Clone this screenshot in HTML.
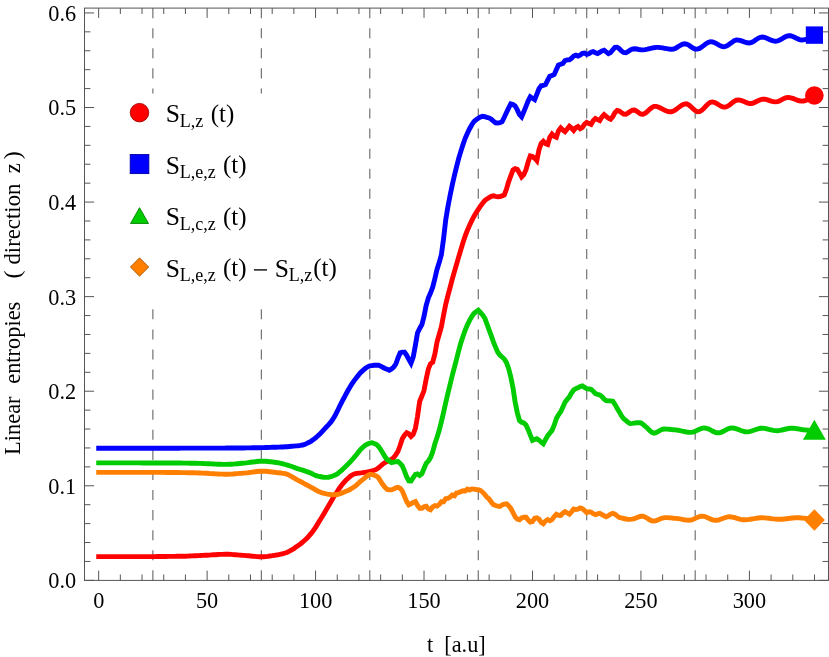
<!DOCTYPE html>
<html><head><meta charset="utf-8"><title>Linear entropies</title>
<style>html,body{margin:0;padding:0;background:#fff;}svg{display:block;will-change:transform;opacity:0.999;}text{font-family:"Liberation Serif",serif;}</style>
</head><body>
<svg width="829" height="657" viewBox="0 0 829 657">
<rect width="829" height="657" fill="#fff"/>
<line x1="152.88" y1="8.1" x2="152.88" y2="580.4" stroke="#666" stroke-width="1.1" stroke-dasharray="10.040 10.040"/>
<line x1="261.34" y1="8.1" x2="261.34" y2="580.4" stroke="#666" stroke-width="1.1" stroke-dasharray="10.040 10.040"/>
<line x1="369.80" y1="8.1" x2="369.80" y2="580.4" stroke="#666" stroke-width="1.1" stroke-dasharray="10.040 10.040"/>
<line x1="478.26" y1="8.1" x2="478.26" y2="580.4" stroke="#666" stroke-width="1.1" stroke-dasharray="10.040 10.040"/>
<line x1="586.72" y1="8.1" x2="586.72" y2="580.4" stroke="#666" stroke-width="1.1" stroke-dasharray="10.040 10.040"/>
<line x1="695.18" y1="8.1" x2="695.18" y2="580.4" stroke="#666" stroke-width="1.1" stroke-dasharray="10.040 10.040"/>
<path d="M98.7,556.6 L100.8,556.6 L103.0,556.6 L105.2,556.6 L107.3,556.6 L109.5,556.6 L111.7,556.6 L113.8,556.6 L116.0,556.6 L118.2,556.6 L120.3,556.6 L122.5,556.6 L124.7,556.6 L126.8,556.6 L129.0,556.6 L131.2,556.6 L133.4,556.6 L135.5,556.6 L137.7,556.6 L139.9,556.6 L142.0,556.6 L144.2,556.6 L146.4,556.6 L148.5,556.6 L150.7,556.6 L152.9,556.6 L155.0,556.6 L157.2,556.5 L159.4,556.5 L161.6,556.5 L163.7,556.5 L165.9,556.5 L168.1,556.4 L170.2,556.4 L172.4,556.4 L174.6,556.4 L176.7,556.3 L178.9,556.3 L181.1,556.3 L183.2,556.2 L185.4,556.2 L187.6,556.1 L189.8,556.0 L191.9,555.9 L194.1,555.8 L196.3,555.7 L198.4,555.6 L200.6,555.5 L202.8,555.4 L204.9,555.3 L207.1,555.2 L209.3,555.1 L211.4,554.9 L213.6,554.8 L215.8,554.7 L218.0,554.5 L220.1,554.4 L222.3,554.4 L224.5,554.3 L226.6,554.3 L228.8,554.3 L231.0,554.4 L233.1,554.6 L235.3,554.7 L237.5,554.9 L239.6,555.1 L241.8,555.3 L244.0,555.4 L246.2,555.6 L248.3,555.8 L250.5,556.0 L252.7,556.2 L254.8,556.4 L257.0,556.6 L259.2,556.7 L261.3,556.8 L263.5,556.8 L265.7,556.6 L267.8,556.4 L270.0,556.0 L272.2,555.7 L274.4,555.3 L276.5,555.0 L278.7,554.6 L280.9,554.1 L283.0,553.6 L285.2,553.0 L287.4,552.2 L289.5,551.2 L291.7,549.9 L293.9,548.6 L296.0,547.1 L298.2,545.6 L300.4,544.0 L302.6,542.2 L304.7,540.3 L306.9,538.2 L309.1,535.9 L311.2,533.4 L313.4,530.5 L315.6,527.3 L317.7,523.9 L319.9,520.3 L322.1,516.8 L324.2,513.2 L326.4,509.5 L328.6,505.7 L330.8,501.9 L332.9,498.2 L335.1,494.8 L337.3,491.5 L339.4,488.2 L341.6,485.2 L343.8,482.5 L345.9,480.3 L348.1,478.2 L350.3,476.3 L352.4,474.8 L354.6,473.8 L356.8,473.4 L359.0,473.1 L361.1,472.9 L363.3,472.6 L365.5,472.3 L367.6,471.9 L369.8,471.5 L372.0,471.0 L374.1,470.3 L376.3,469.4 L378.5,467.8 L380.6,466.0 L382.8,464.1 L385.0,462.5 L387.2,461.4 L389.3,460.5 L391.5,459.3 L393.7,457.6 L395.8,454.9 L398.0,451.3 L400.2,445.3 L402.3,438.8 L404.5,435.2 L406.7,432.8 L408.8,433.8 L411.0,436.4 L413.2,434.3 L415.4,428.3 L417.5,416.6 L419.7,401.2 L421.9,396.0 L424.0,390.5 L426.2,378.9 L428.4,368.9 L430.5,363.8 L432.7,362.2 L434.9,353.9 L437.0,342.0 L439.2,334.5 L441.4,326.7 L443.6,314.9 L445.7,304.3 L447.9,295.7 L450.1,287.5 L452.2,279.4 L454.4,271.6 L456.6,264.1 L458.7,256.9 L460.9,249.5 L463.1,242.3 L465.2,235.9 L467.4,230.3 L469.6,225.2 L471.8,220.6 L473.9,216.4 L476.1,212.7 L478.3,209.3 L480.4,206.2 L482.6,203.2 L484.8,200.6 L486.9,198.9 L489.1,197.6 L491.3,196.3 L493.4,195.8 L495.6,196.3 L497.8,196.7 L500.0,196.5 L502.1,196.0 L504.3,194.9 L506.5,189.0 L508.6,181.8 L510.8,175.9 L513.0,169.9 L515.1,168.7 L517.3,169.4 L519.5,173.1 L521.6,176.9 L523.8,174.6 L526.0,169.7 L528.2,161.8 L530.3,155.9 L532.5,156.5 L534.7,158.2 L536.8,160.6 L539.0,149.7 L541.2,143.4 L543.3,141.3 L545.5,143.7 L547.7,144.5 L549.8,137.3 L552.0,134.1 L554.2,136.3 L556.4,137.2 L558.5,130.8 L560.7,127.9 L562.9,130.1 L565.0,131.7 L567.2,129.0 L569.4,126.2 L571.5,128.0 L573.7,130.4 L575.9,127.6 L578.0,126.5 L580.2,128.7 L582.4,127.4 L584.6,124.2 L586.7,122.4 L588.9,123.4 L591.1,124.4 L593.2,120.7 L595.4,118.5 L597.6,119.6 L599.7,120.6 L601.9,117.0 L604.1,114.6 L606.2,116.4 L608.4,118.2 L610.6,119.2 L612.8,116.5 L614.9,112.7 L617.1,110.4 L619.3,111.0 L621.4,112.6 L623.6,114.1 L625.8,114.3 L627.9,113.1 L630.1,111.5 L632.3,110.2 L634.4,110.0 L636.6,111.1 L638.8,112.8 L640.9,114.1 L643.1,114.3 L645.3,113.2 L647.5,111.4 L649.6,109.3 L651.8,107.5 L654.0,106.4 L656.1,106.4 L658.3,107.0 L660.5,108.0 L662.6,109.1 L664.8,110.3 L667.0,111.2 L669.1,111.8 L671.3,111.8 L673.5,111.0 L675.7,109.7 L677.8,108.1 L680.0,106.4 L682.2,105.0 L684.3,104.1 L686.5,103.8 L688.7,104.8 L690.8,106.6 L693.0,108.7 L695.2,110.6 L697.3,111.8 L699.5,111.7 L701.7,110.4 L703.9,108.3 L706.0,106.0 L708.2,103.8 L710.4,102.3 L712.5,101.9 L714.7,102.5 L716.9,103.7 L719.0,105.0 L721.2,106.3 L723.4,107.1 L725.5,107.1 L727.7,106.2 L729.9,104.7 L732.1,102.9 L734.2,101.3 L736.4,100.2 L738.6,99.9 L740.7,100.3 L742.9,101.1 L745.1,102.1 L747.2,102.9 L749.4,103.5 L751.6,103.5 L753.7,102.9 L755.9,101.8 L758.1,100.7 L760.3,99.7 L762.4,99.1 L764.6,99.2 L766.8,99.7 L768.9,100.4 L771.1,101.1 L773.3,101.6 L775.4,101.9 L777.6,101.6 L779.8,100.7 L781.9,99.6 L784.1,98.4 L786.3,97.6 L788.5,97.4 L790.6,97.8 L792.8,98.4 L795.0,99.3 L797.1,100.1 L799.3,100.8 L801.5,101.1 L803.6,101.0 L805.8,100.4 L808.0,99.6 L810.1,98.5 L812.3,97.1 L814.5,95.6" fill="none" stroke="#ff0000" stroke-width="4.9" stroke-linejoin="miter" stroke-miterlimit="4" stroke-linecap="square"/>
<path d="M98.7,448.2 L100.8,448.2 L103.0,448.2 L105.2,448.2 L107.3,448.2 L109.5,448.2 L111.7,448.2 L113.8,448.2 L116.0,448.2 L118.2,448.2 L120.3,448.2 L122.5,448.2 L124.7,448.2 L126.8,448.2 L129.0,448.2 L131.2,448.2 L133.4,448.2 L135.5,448.2 L137.7,448.2 L139.9,448.2 L142.0,448.2 L144.2,448.2 L146.4,448.2 L148.5,448.2 L150.7,448.2 L152.9,448.2 L155.0,448.2 L157.2,448.2 L159.4,448.2 L161.6,448.2 L163.7,448.2 L165.9,448.2 L168.1,448.2 L170.2,448.2 L172.4,448.2 L174.6,448.2 L176.7,448.2 L178.9,448.2 L181.1,448.1 L183.2,448.1 L185.4,448.1 L187.6,448.1 L189.8,448.1 L191.9,448.1 L194.1,448.1 L196.3,448.1 L198.4,448.1 L200.6,448.1 L202.8,448.1 L204.9,448.1 L207.1,448.1 L209.3,448.1 L211.4,448.1 L213.6,448.1 L215.8,448.1 L218.0,448.1 L220.1,448.1 L222.3,448.1 L224.5,448.1 L226.6,448.0 L228.8,448.0 L231.0,448.0 L233.1,448.0 L235.3,448.0 L237.5,448.0 L239.6,448.0 L241.8,448.0 L244.0,448.0 L246.2,447.9 L248.3,447.9 L250.5,447.9 L252.7,447.8 L254.8,447.8 L257.0,447.7 L259.2,447.7 L261.3,447.6 L263.5,447.6 L265.7,447.5 L267.8,447.5 L270.0,447.4 L272.2,447.3 L274.4,447.3 L276.5,447.2 L278.7,447.1 L280.9,447.0 L283.0,447.0 L285.2,446.8 L287.4,446.7 L289.5,446.5 L291.7,446.3 L293.9,446.1 L296.0,445.9 L298.2,445.7 L300.4,445.4 L302.6,445.0 L304.7,444.4 L306.9,443.4 L309.1,442.3 L311.2,441.1 L313.4,439.6 L315.6,437.8 L317.7,436.0 L319.9,433.9 L322.1,431.7 L324.2,429.3 L326.4,427.0 L328.6,424.7 L330.8,422.2 L332.9,419.2 L335.1,415.5 L337.3,411.2 L339.4,406.7 L341.6,402.3 L343.8,398.3 L345.9,394.2 L348.1,390.3 L350.3,386.6 L352.4,383.2 L354.6,380.1 L356.8,377.2 L359.0,374.4 L361.1,372.1 L363.3,370.1 L365.5,368.3 L367.6,366.8 L369.8,365.9 L372.0,365.6 L374.1,365.3 L376.3,365.1 L378.5,365.2 L380.6,366.1 L382.8,367.3 L385.0,368.4 L387.2,369.3 L389.3,370.2 L391.5,369.0 L393.7,367.0 L395.8,364.2 L398.0,358.0 L400.2,352.8 L402.3,352.1 L404.5,352.1 L406.7,355.3 L408.8,359.3 L411.0,363.2 L413.2,357.1 L415.4,345.3 L417.5,333.0 L419.7,328.5 L421.9,324.5 L424.0,316.4 L426.2,305.3 L428.4,297.9 L430.5,293.0 L432.7,287.2 L434.9,278.5 L437.0,269.4 L439.2,262.6 L441.4,254.6 L443.6,238.4 L445.7,220.0 L447.9,206.8 L450.1,195.4 L452.2,185.2 L454.4,175.5 L456.6,166.6 L458.7,158.4 L460.9,151.1 L463.1,144.3 L465.2,138.3 L467.4,133.2 L469.6,128.7 L471.8,124.7 L473.9,121.6 L476.1,119.8 L478.3,118.2 L480.4,117.0 L482.6,116.3 L484.8,116.6 L486.9,117.3 L489.1,117.9 L491.3,119.3 L493.4,121.1 L495.6,122.8 L497.8,123.0 L500.0,122.7 L502.1,121.6 L504.3,117.3 L506.5,112.5 L508.6,108.1 L510.8,103.8 L513.0,104.4 L515.1,105.9 L517.3,109.9 L519.5,114.7 L521.6,116.9 L523.8,111.8 L526.0,106.4 L528.2,100.8 L530.3,96.8 L532.5,98.2 L534.7,99.6 L536.8,94.4 L539.0,88.8 L541.2,85.8 L543.3,85.4 L545.5,84.5 L547.7,80.2 L549.8,76.3 L552.0,75.5 L554.2,74.4 L556.4,69.5 L558.5,65.0 L560.7,64.2 L562.9,63.4 L565.0,60.6 L567.2,59.9 L569.4,59.9 L571.5,58.3 L573.7,56.1 L575.9,55.2 L578.0,56.0 L580.2,55.1 L582.4,53.4 L584.6,53.0 L586.7,54.4 L588.9,53.8 L591.1,52.2 L593.2,51.6 L595.4,52.7 L597.6,53.6 L599.7,52.3 L601.9,50.9 L604.1,50.3 L606.2,51.9 L608.4,53.6 L610.6,52.5 L612.8,49.8 L614.9,47.4 L617.1,47.2 L619.3,48.7 L621.4,50.9 L623.6,52.5 L625.8,52.8 L627.9,51.7 L630.1,50.2 L632.3,49.0 L634.4,48.7 L636.6,49.0 L638.8,49.5 L640.9,49.8 L643.1,49.9 L645.3,49.6 L647.5,49.2 L649.6,48.7 L651.8,48.2 L654.0,47.7 L656.1,47.4 L658.3,47.4 L660.5,47.6 L662.6,47.9 L664.8,48.3 L667.0,48.7 L669.1,49.0 L671.3,49.2 L673.5,49.1 L675.7,48.2 L677.8,46.9 L680.0,45.5 L682.2,44.3 L684.3,43.7 L686.5,44.0 L688.7,45.1 L690.8,46.6 L693.0,48.0 L695.2,49.0 L697.3,49.1 L699.5,48.4 L701.7,47.0 L703.9,45.4 L706.0,43.7 L708.2,42.4 L710.4,41.7 L712.5,41.9 L714.7,42.7 L716.9,43.9 L719.0,45.1 L721.2,46.2 L723.4,46.8 L725.5,46.5 L727.7,45.4 L729.9,43.8 L732.1,42.2 L734.2,40.8 L736.4,40.0 L738.6,40.1 L740.7,40.7 L742.9,41.4 L745.1,42.2 L747.2,42.8 L749.4,43.0 L751.6,42.5 L753.7,41.3 L755.9,39.8 L758.1,38.3 L760.3,37.3 L762.4,37.0 L764.6,37.4 L766.8,38.2 L768.9,39.2 L771.1,40.2 L773.3,40.9 L775.4,41.2 L777.6,40.9 L779.8,40.0 L781.9,38.8 L784.1,37.5 L786.3,36.4 L788.5,35.8 L790.6,35.8 L792.8,36.5 L795.0,37.5 L797.1,38.6 L799.3,39.6 L801.5,40.0 L803.6,39.9 L805.8,39.5 L808.0,38.7 L810.1,37.7 L812.3,36.4 L814.5,35.0" fill="none" stroke="#0000ff" stroke-width="4.9" stroke-linejoin="miter" stroke-miterlimit="4" stroke-linecap="square"/>
<path d="M98.7,462.9 L100.8,462.9 L103.0,462.9 L105.2,462.9 L107.3,462.9 L109.5,462.9 L111.7,462.9 L113.8,462.9 L116.0,462.9 L118.2,462.9 L120.3,462.9 L122.5,462.9 L124.7,462.9 L126.8,462.9 L129.0,462.9 L131.2,462.9 L133.4,462.9 L135.5,462.9 L137.7,462.9 L139.9,462.9 L142.0,463.0 L144.2,463.0 L146.4,463.0 L148.5,463.0 L150.7,463.0 L152.9,463.0 L155.0,463.0 L157.2,463.0 L159.4,463.0 L161.6,463.0 L163.7,463.0 L165.9,463.0 L168.1,463.0 L170.2,463.0 L172.4,463.0 L174.6,463.0 L176.7,463.0 L178.9,463.0 L181.1,463.0 L183.2,463.1 L185.4,463.1 L187.6,463.1 L189.8,463.2 L191.9,463.2 L194.1,463.3 L196.3,463.3 L198.4,463.4 L200.6,463.4 L202.8,463.5 L204.9,463.6 L207.1,463.7 L209.3,463.8 L211.4,463.9 L213.6,464.0 L215.8,464.1 L218.0,464.2 L220.1,464.3 L222.3,464.4 L224.5,464.4 L226.6,464.4 L228.8,464.3 L231.0,464.2 L233.1,464.1 L235.3,463.9 L237.5,463.7 L239.6,463.5 L241.8,463.3 L244.0,463.1 L246.2,462.9 L248.3,462.6 L250.5,462.3 L252.7,462.0 L254.8,461.8 L257.0,461.5 L259.2,461.3 L261.3,461.2 L263.5,461.2 L265.7,461.3 L267.8,461.5 L270.0,461.7 L272.2,461.9 L274.4,462.2 L276.5,462.5 L278.7,462.9 L280.9,463.4 L283.0,463.9 L285.2,464.5 L287.4,465.1 L289.5,465.8 L291.7,466.5 L293.9,467.3 L296.0,468.1 L298.2,468.8 L300.4,469.5 L302.6,470.2 L304.7,470.9 L306.9,471.7 L309.1,472.4 L311.2,473.3 L313.4,474.4 L315.6,475.4 L317.7,476.1 L319.9,476.5 L322.1,477.0 L324.2,477.3 L326.4,477.4 L328.6,477.2 L330.8,476.7 L332.9,476.0 L335.1,475.1 L337.3,473.9 L339.4,472.2 L341.6,470.3 L343.8,468.3 L345.9,466.3 L348.1,464.1 L350.3,461.8 L352.4,459.5 L354.6,456.9 L356.8,454.2 L359.0,451.4 L361.1,449.0 L363.3,446.9 L365.5,445.1 L367.6,444.0 L369.8,443.1 L372.0,442.7 L374.1,443.5 L376.3,444.3 L378.5,446.4 L380.6,449.5 L382.8,453.0 L385.0,456.8 L387.2,459.6 L389.3,461.1 L391.5,462.6 L393.7,462.2 L395.8,461.7 L398.0,461.6 L400.2,463.4 L402.3,465.9 L404.5,471.1 L406.7,477.0 L408.8,480.9 L411.0,481.0 L413.2,477.6 L415.4,474.4 L417.5,473.9 L419.7,475.4 L421.9,473.7 L424.0,468.5 L426.2,463.3 L428.4,460.9 L430.5,457.7 L432.7,451.9 L434.9,443.8 L437.0,437.4 L439.2,430.3 L441.4,421.7 L443.6,412.4 L445.7,402.7 L447.9,393.3 L450.1,384.5 L452.2,375.8 L454.4,367.4 L456.6,359.0 L458.7,350.6 L460.9,342.8 L463.1,336.1 L465.2,330.2 L467.4,324.8 L469.6,320.3 L471.8,316.5 L473.9,313.5 L476.1,311.8 L478.3,310.2 L480.4,312.5 L482.6,314.9 L484.8,318.2 L486.9,323.9 L489.1,329.8 L491.3,335.9 L493.4,341.8 L495.6,347.3 L497.8,352.2 L500.0,355.2 L502.1,357.0 L504.3,359.0 L506.5,362.6 L508.6,368.5 L510.8,377.0 L513.0,388.0 L515.1,401.7 L517.3,412.6 L519.5,420.5 L521.6,422.2 L523.8,422.9 L526.0,425.0 L528.2,429.8 L530.3,435.1 L532.5,440.3 L534.7,439.5 L536.8,438.8 L539.0,440.1 L541.2,442.2 L543.3,443.8 L545.5,439.7 L547.7,435.7 L549.8,433.1 L552.0,430.4 L554.2,425.2 L556.4,418.6 L558.5,414.8 L560.7,411.8 L562.9,407.0 L565.0,402.2 L567.2,399.4 L569.4,396.8 L571.5,393.1 L573.7,389.8 L575.9,388.6 L578.0,387.7 L580.2,386.5 L582.4,385.9 L584.6,387.5 L586.7,388.7 L588.9,389.0 L591.1,389.4 L593.2,391.2 L595.4,393.7 L597.6,394.4 L599.7,394.9 L601.9,396.6 L604.1,399.2 L606.2,400.6 L608.4,400.8 L610.6,400.9 L612.8,401.3 L614.9,404.2 L617.1,408.3 L619.3,411.9 L621.4,415.6 L623.6,418.6 L625.8,420.4 L627.9,422.2 L630.1,423.6 L632.3,423.4 L634.4,423.1 L636.6,422.8 L638.8,422.6 L640.9,422.9 L643.1,424.4 L645.3,426.4 L647.5,428.2 L649.6,430.4 L651.8,432.3 L654.0,433.1 L656.1,432.6 L658.3,431.4 L660.5,430.1 L662.6,429.2 L664.8,429.0 L667.0,429.1 L669.1,429.2 L671.3,429.5 L673.5,429.7 L675.7,429.9 L677.8,430.2 L680.0,430.6 L682.2,431.1 L684.3,431.5 L686.5,432.0 L688.7,432.3 L690.8,432.4 L693.0,432.1 L695.2,431.3 L697.3,430.2 L699.5,429.2 L701.7,428.4 L703.9,427.9 L706.0,428.1 L708.2,428.8 L710.4,429.9 L712.5,431.1 L714.7,432.1 L716.9,432.8 L719.0,432.8 L721.2,432.3 L723.4,431.3 L725.5,430.1 L727.7,429.0 L729.9,428.2 L732.1,427.9 L734.2,428.2 L736.4,428.8 L738.6,429.6 L740.7,430.5 L742.9,431.2 L745.1,431.8 L747.2,431.9 L749.4,431.6 L751.6,431.0 L753.7,430.3 L755.9,429.5 L758.1,428.8 L760.3,428.3 L762.4,428.2 L764.6,428.4 L766.8,428.8 L768.9,429.4 L771.1,429.9 L773.3,430.4 L775.4,430.6 L777.6,430.7 L779.8,430.4 L781.9,430.0 L784.1,429.5 L786.3,429.0 L788.5,428.5 L790.6,428.2 L792.8,428.2 L795.0,428.4 L797.1,428.7 L799.3,429.1 L801.5,429.5 L803.6,429.8 L805.8,430.0 L808.0,430.2 L810.1,430.4 L812.3,430.6 L814.5,430.7" fill="none" stroke="#00cc00" stroke-width="4.9" stroke-linejoin="miter" stroke-miterlimit="4" stroke-linecap="square"/>
<path d="M98.7,472.4 L100.8,472.4 L103.0,472.4 L105.2,472.4 L107.3,472.4 L109.5,472.4 L111.7,472.4 L113.8,472.4 L116.0,472.4 L118.2,472.4 L120.3,472.4 L122.5,472.4 L124.7,472.4 L126.8,472.4 L129.0,472.4 L131.2,472.4 L133.4,472.4 L135.5,472.4 L137.7,472.4 L139.9,472.4 L142.0,472.4 L144.2,472.4 L146.4,472.4 L148.5,472.4 L150.7,472.4 L152.9,472.4 L155.0,472.4 L157.2,472.4 L159.4,472.4 L161.6,472.4 L163.7,472.4 L165.9,472.5 L168.1,472.5 L170.2,472.5 L172.4,472.5 L174.6,472.5 L176.7,472.5 L178.9,472.5 L181.1,472.6 L183.2,472.6 L185.4,472.6 L187.6,472.7 L189.8,472.7 L191.9,472.8 L194.1,472.8 L196.3,472.9 L198.4,473.0 L200.6,473.0 L202.8,473.1 L204.9,473.2 L207.1,473.3 L209.3,473.5 L211.4,473.6 L213.6,473.7 L215.8,473.9 L218.0,474.0 L220.1,474.1 L222.3,474.1 L224.5,474.2 L226.6,474.2 L228.8,474.2 L231.0,474.1 L233.1,474.0 L235.3,473.8 L237.5,473.6 L239.6,473.4 L241.8,473.3 L244.0,473.1 L246.2,472.9 L248.3,472.7 L250.5,472.4 L252.7,472.1 L254.8,471.8 L257.0,471.5 L259.2,471.3 L261.3,471.2 L263.5,471.2 L265.7,471.3 L267.8,471.5 L270.0,471.7 L272.2,472.0 L274.4,472.2 L276.5,472.5 L278.7,472.7 L280.9,473.0 L283.0,473.3 L285.2,473.7 L287.4,474.4 L289.5,475.4 L291.7,476.6 L293.9,477.9 L296.0,479.2 L298.2,480.4 L300.4,481.5 L302.6,482.7 L304.7,483.8 L306.9,485.0 L309.1,486.1 L311.2,487.3 L313.4,488.5 L315.6,489.8 L317.7,491.1 L319.9,492.1 L322.1,492.9 L324.2,493.4 L326.4,493.9 L328.6,494.3 L330.8,494.6 L332.9,494.8 L335.1,494.8 L337.3,494.5 L339.4,493.9 L341.6,493.1 L343.8,492.2 L345.9,491.3 L348.1,490.4 L350.3,489.3 L352.4,488.0 L354.6,486.6 L356.8,484.8 L359.0,482.8 L361.1,480.8 L363.3,479.1 L365.5,477.3 L367.6,475.6 L369.8,474.4 L372.0,474.4 L374.1,475.2 L376.3,476.0 L378.5,477.7 L380.6,481.2 L382.8,484.6 L385.0,487.3 L387.2,489.4 L389.3,489.8 L391.5,489.9 L393.7,489.0 L395.8,487.9 L398.0,487.3 L400.2,488.2 L402.3,490.9 L404.5,496.4 L406.7,501.6 L408.8,504.9 L411.0,503.8 L413.2,502.4 L415.4,501.6 L417.5,505.3 L419.7,508.3 L421.9,508.3 L424.0,506.7 L426.2,506.2 L428.4,508.9 L430.5,509.7 L432.7,506.9 L434.9,505.6 L437.0,506.1 L439.2,504.4 L441.4,501.8 L443.6,501.8 L445.7,498.6 L447.9,498.4 L450.1,497.0 L452.2,495.0 L454.4,495.8 L456.6,492.9 L458.7,492.6 L460.9,491.6 L463.1,490.8 L465.2,490.9 L467.4,489.1 L469.6,490.0 L471.8,488.9 L473.9,489.1 L476.1,489.5 L478.3,489.7 L480.4,490.4 L482.6,492.2 L484.8,494.6 L486.9,497.3 L489.1,499.0 L491.3,502.2 L493.4,504.6 L495.6,505.5 L497.8,506.1 L500.0,506.5 L502.1,504.9 L504.3,504.1 L506.5,503.8 L508.6,505.6 L510.8,508.4 L513.0,512.5 L515.1,516.9 L517.3,519.1 L519.5,519.8 L521.6,517.9 L523.8,517.1 L526.0,517.2 L528.2,520.1 L530.3,522.1 L532.5,521.6 L534.7,518.2 L536.8,517.8 L539.0,519.1 L541.2,522.5 L543.3,523.8 L545.5,521.0 L547.7,519.6 L549.8,520.7 L552.0,519.6 L554.2,516.5 L556.4,514.2 L558.5,515.3 L560.7,515.5 L562.9,513.1 L565.0,511.7 L567.2,512.9 L569.4,514.1 L571.5,511.8 L573.7,509.0 L575.9,509.6 L578.0,509.2 L580.2,507.9 L582.4,508.7 L584.6,510.6 L586.7,512.7 L588.9,511.8 L591.1,512.1 L593.2,513.7 L595.4,514.6 L597.6,513.9 L599.7,513.4 L601.9,514.5 L604.1,515.7 L606.2,516.7 L608.4,515.7 L610.6,514.1 L612.8,513.3 L614.9,514.1 L617.1,515.9 L619.3,517.4 L621.4,518.0 L623.6,518.5 L625.8,519.0 L627.9,519.3 L630.1,519.4 L632.3,519.2 L634.4,518.6 L636.6,517.7 L638.8,516.9 L640.9,516.3 L643.1,516.3 L645.3,517.1 L647.5,518.4 L649.6,519.8 L651.8,520.8 L654.0,521.1 L656.1,520.6 L658.3,519.8 L660.5,518.8 L662.6,518.0 L664.8,517.6 L667.0,517.6 L669.1,517.8 L671.3,517.9 L673.5,518.2 L675.7,518.4 L677.8,518.6 L680.0,518.9 L682.2,519.3 L684.3,519.8 L686.5,520.1 L688.7,520.3 L690.8,520.1 L693.0,519.5 L695.2,518.4 L697.3,517.4 L699.5,516.5 L701.7,516.1 L703.9,516.3 L706.0,517.0 L708.2,517.9 L710.4,518.9 L712.5,519.8 L714.7,520.2 L716.9,520.2 L719.0,519.8 L721.2,519.0 L723.4,518.2 L725.5,517.5 L727.7,516.9 L729.9,516.8 L732.1,517.1 L734.2,517.5 L736.4,518.2 L738.6,518.8 L740.7,519.4 L742.9,519.7 L745.1,519.8 L747.2,519.6 L749.4,519.4 L751.6,519.0 L753.7,518.7 L755.9,518.3 L758.1,518.0 L760.3,517.8 L762.4,517.8 L764.6,517.9 L766.8,518.1 L768.9,518.3 L771.1,518.6 L773.3,518.9 L775.4,519.1 L777.6,519.3 L779.8,519.3 L781.9,519.2 L784.1,519.0 L786.3,518.8 L788.5,518.5 L790.6,518.2 L792.8,518.0 L795.0,517.8 L797.1,517.8 L799.3,517.8 L801.5,518.0 L803.6,518.1 L805.8,518.4 L808.0,518.7 L810.1,519.0 L812.3,519.4 L814.5,519.8" fill="none" stroke="#ff8000" stroke-width="4.9" stroke-linejoin="miter" stroke-miterlimit="4" stroke-linecap="square"/>
<circle cx="814.35" cy="95.5" r="9.3" fill="#ff0000"/>
<rect x="805.8" y="26.4" width="17.2" height="17.4" fill="#0000ff"/>
<polygon points="814.4,419.7 825.8,439.7 802.9,439.7" fill="#00cc00"/>
<polygon points="814.4,509.25 824.9,520.05 814.4,530.85 803.9,520.05" fill="#ff8000"/>
<g stroke="#555" stroke-width="1" fill="none">
<rect x="84.5" y="8.1" width="744.0" height="572.3"/>
<path d="M98.65,580.4 v-9.8 M98.65,8.1 v9.8 M120.34,580.4 v-5.9 M120.34,8.1 v5.9 M142.03,580.4 v-5.9 M142.03,8.1 v5.9 M163.73,580.4 v-5.9 M163.73,8.1 v5.9 M185.42,580.4 v-5.9 M185.42,8.1 v5.9 M207.11,580.4 v-9.8 M207.11,8.1 v9.8 M228.80,580.4 v-5.9 M228.80,8.1 v5.9 M250.49,580.4 v-5.9 M250.49,8.1 v5.9 M272.19,580.4 v-5.9 M272.19,8.1 v5.9 M293.88,580.4 v-5.9 M293.88,8.1 v5.9 M315.57,580.4 v-9.8 M315.57,8.1 v9.8 M337.26,580.4 v-5.9 M337.26,8.1 v5.9 M358.95,580.4 v-5.9 M358.95,8.1 v5.9 M380.65,580.4 v-5.9 M380.65,8.1 v5.9 M402.34,580.4 v-5.9 M402.34,8.1 v5.9 M424.03,580.4 v-9.8 M424.03,8.1 v9.8 M445.72,580.4 v-5.9 M445.72,8.1 v5.9 M467.41,580.4 v-5.9 M467.41,8.1 v5.9 M489.11,580.4 v-5.9 M489.11,8.1 v5.9 M510.80,580.4 v-5.9 M510.80,8.1 v5.9 M532.49,580.4 v-9.8 M532.49,8.1 v9.8 M554.18,580.4 v-5.9 M554.18,8.1 v5.9 M575.87,580.4 v-5.9 M575.87,8.1 v5.9 M597.57,580.4 v-5.9 M597.57,8.1 v5.9 M619.26,580.4 v-5.9 M619.26,8.1 v5.9 M640.95,580.4 v-9.8 M640.95,8.1 v9.8 M662.64,580.4 v-5.9 M662.64,8.1 v5.9 M684.33,580.4 v-5.9 M684.33,8.1 v5.9 M706.03,580.4 v-5.9 M706.03,8.1 v5.9 M727.72,580.4 v-5.9 M727.72,8.1 v5.9 M749.41,580.4 v-9.8 M749.41,8.1 v9.8 M771.10,580.4 v-5.9 M771.10,8.1 v5.9 M792.79,580.4 v-5.9 M792.79,8.1 v5.9 M814.49,580.4 v-5.9 M814.49,8.1 v5.9 M84.5,580.35 h9.6 M828.5,580.35 h-9.6 M84.5,561.44 h5.9 M828.5,561.44 h-5.9 M84.5,542.52 h5.9 M828.5,542.52 h-5.9 M84.5,523.61 h5.9 M828.5,523.61 h-5.9 M84.5,504.69 h5.9 M828.5,504.69 h-5.9 M84.5,485.78 h9.6 M828.5,485.78 h-9.6 M84.5,466.87 h5.9 M828.5,466.87 h-5.9 M84.5,447.95 h5.9 M828.5,447.95 h-5.9 M84.5,429.04 h5.9 M828.5,429.04 h-5.9 M84.5,410.12 h5.9 M828.5,410.12 h-5.9 M84.5,391.21 h9.6 M828.5,391.21 h-9.6 M84.5,372.30 h5.9 M828.5,372.30 h-5.9 M84.5,353.38 h5.9 M828.5,353.38 h-5.9 M84.5,334.47 h5.9 M828.5,334.47 h-5.9 M84.5,315.55 h5.9 M828.5,315.55 h-5.9 M84.5,296.64 h9.6 M828.5,296.64 h-9.6 M84.5,277.73 h5.9 M828.5,277.73 h-5.9 M84.5,258.81 h5.9 M828.5,258.81 h-5.9 M84.5,239.90 h5.9 M828.5,239.90 h-5.9 M84.5,220.98 h5.9 M828.5,220.98 h-5.9 M84.5,202.07 h9.6 M828.5,202.07 h-9.6 M84.5,183.16 h5.9 M828.5,183.16 h-5.9 M84.5,164.24 h5.9 M828.5,164.24 h-5.9 M84.5,145.33 h5.9 M828.5,145.33 h-5.9 M84.5,126.41 h5.9 M828.5,126.41 h-5.9 M84.5,107.50 h9.6 M828.5,107.50 h-9.6 M84.5,88.59 h5.9 M828.5,88.59 h-5.9 M84.5,69.67 h5.9 M828.5,69.67 h-5.9 M84.5,50.76 h5.9 M828.5,50.76 h-5.9 M84.5,31.84 h5.9 M828.5,31.84 h-5.9 M84.5,12.93 h9.6 M828.5,12.93 h-9.6"/>
</g>
<g font-family="Liberation Serif, serif" font-size="22.3" fill="#000">
<text transform="translate(98.7,608.3) scale(1,1.04)" text-anchor="middle">0</text>
<text transform="translate(207.1,608.3) scale(1,1.04)" text-anchor="middle">50</text>
<text transform="translate(315.6,608.3) scale(1,1.04)" text-anchor="middle">100</text>
<text transform="translate(424.0,608.3) scale(1,1.04)" text-anchor="middle">150</text>
<text transform="translate(532.5,608.3) scale(1,1.04)" text-anchor="middle">200</text>
<text transform="translate(640.9,608.3) scale(1,1.04)" text-anchor="middle">250</text>
<text transform="translate(749.4,608.3) scale(1,1.04)" text-anchor="middle">300</text>
<text transform="translate(76.1,588.2) scale(1,1.04)" text-anchor="end">0.0</text>
<text transform="translate(76.1,493.7) scale(1,1.04)" text-anchor="end">0.1</text>
<text transform="translate(76.1,399.1) scale(1,1.04)" text-anchor="end">0.2</text>
<text transform="translate(76.1,304.5) scale(1,1.04)" text-anchor="end">0.3</text>
<text transform="translate(76.1,210.0) scale(1,1.04)" text-anchor="end">0.4</text>
<text transform="translate(76.1,115.4) scale(1,1.04)" text-anchor="end">0.5</text>
<text transform="translate(76.1,20.8) scale(1,1.04)" text-anchor="end">0.6</text>
<text x="456.3" y="651.6" text-anchor="middle" xml:space="preserve">t  [a.u]</text>
<g transform="translate(20,0) rotate(-90)">
<text x="-454.9" y="0" font-size="22.4">Linear</text>
<text x="-383.8" y="0" font-size="22.4">entropies</text>
<text x="-278.6" y="0" font-size="24">(</text>
<text x="-264.6" y="0" font-size="22.8">direction</text>
<text x="-173.2" y="0" font-size="22.6">z</text>
<text x="-159.3" y="0" font-size="24">)</text>
</g>
</g>
<rect x="120" y="93.5" width="225" height="214" fill="#fff"/>
<g stroke-width="0.9" stroke-linejoin="miter">
<circle cx="139.5" cy="112.65" r="9.25" fill="#ff0000" stroke="#a30000"/>
<rect x="130.2" y="154.55" width="18.65" height="19.05" fill="#0000ff" stroke="#0000a3"/>
<polygon points="139.55,207.7 148.55,223.45 130.55,223.45" fill="#00cc00" stroke="#008300"/>
<polygon points="139.55,257.85 148.7,267.0 139.55,276.15 130.4,267.0" fill="#ff8000" stroke="#a35200"/>
</g>
<g font-family="Liberation Serif, serif" font-size="25" fill="#000">
<text x="165.7" y="122.10000000000001" font-size="25.6">S</text>
<text x="179.7" y="126.80000000000001" font-size="18.0">L,z</text>
<text x="210.7" y="121.9">(t)</text>
<text x="165.7" y="173.6" font-size="25.6">S</text>
<text x="179.7" y="178.3" font-size="18.0">L,e,z</text>
<text x="223.0" y="173.4">(t)</text>
<text x="165.7" y="225.1" font-size="25.6">S</text>
<text x="179.7" y="229.8" font-size="18.0">L,c,z</text>
<text x="223.0" y="224.9">(t)</text>
<text x="165.7" y="276.59999999999997" font-size="25.6">S</text>
<text x="179.7" y="281.29999999999995" font-size="18.0">L,e,z</text>
<text x="223.0" y="276.4">(t)</text>
<rect x="253.9" y="269.15" width="13.1" height="1.5" fill="#1a1a1a"/>
<text x="274.7" y="276.59999999999997" font-size="25.6">S</text>
<text x="288.7" y="281.29999999999995" font-size="18.0">L,z</text>
<text x="313.3" y="276.4">(t)</text>
</g>
</svg>
</body></html>
